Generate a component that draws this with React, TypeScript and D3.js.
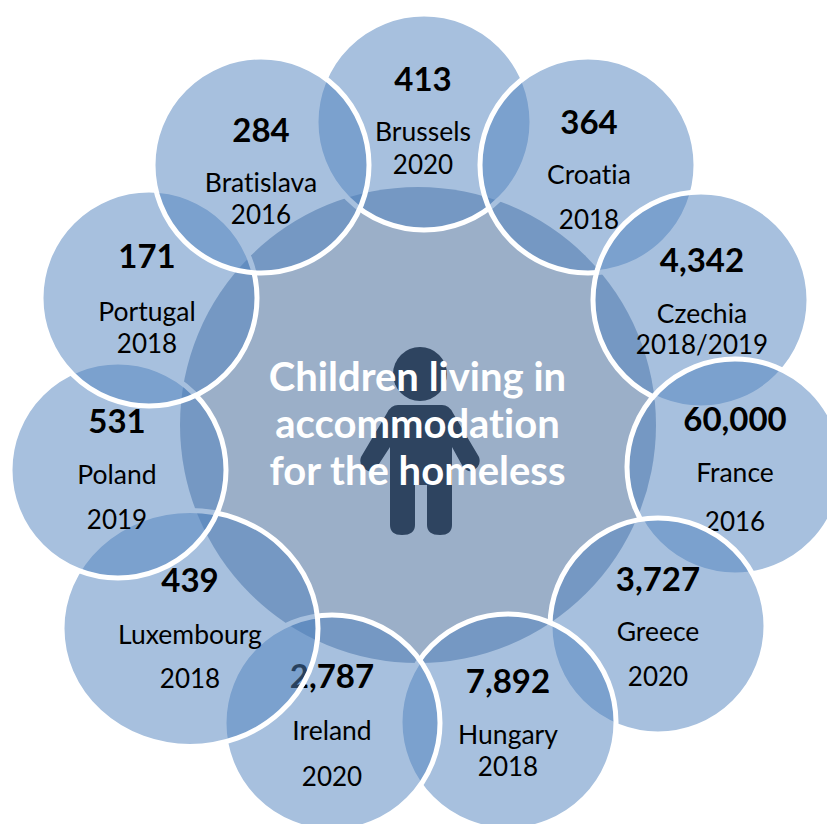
import React from "react";
import * as d3 from "d3";

// Number of children in accommodation for the homeless, clockwise from the top.
const places = ["Brussels", "Croatia", "Czechia", "France", "Greece", "Hungary", "Ireland", "Luxembourg", "Poland", "Portugal", "Bratislava"];
const years = ["2020", "2018", "2018/2019", "2016", "2020", "2018", "2020", "2018", "2019", "2018", "2016"];
const children = [413, 364, 4342, 60000, 3727, 7892, 2787, 439, 531, 171, 284];
const titleLines = ["Children living in", "accommodation", "for the homeless"];

// Hand placement of the petals: centre, radii and the three text baselines.
const petalX = [424, 588, 701, 735, 658, 508, 332, 190, 118, 149, 261];
const petalY = [122, 165, 300, 467, 626, 722, 723, 628.5, 470, 298, 165];
const petalRx = [108, 108, 108, 108, 108, 108, 108, 128, 108, 108, 108];
const petalRy = [108, 108, 108, 108, 108, 108, 108, 118, 108, 108, 108];
const textX = [423, 589, 702, 735, 658, 508, 332, 190, 117, 147, 261];
const valueBase = [91, 134, 272, 431, 591, 693, 688, 592, 433, 268, 142];
const placeBase = [141, 184, 323, 482, 641, 744, 740, 644, 484, 321, 192];
const yearBase = [174, 229, 354, 531, 686, 776, 786, 688, 529, 353, 224];

const WIDTH = 827;
const HEIGHT = 824;
const FONT = "Lato, 'Noto Sans', sans-serif";
const formatCount = d3.format(",");

// Figure in the middle of the ring, mirrored around its vertical axis.
function figurePath(cx: number): string {
  const p = d3.path();
  const side = (dx: number) => cx + dx;
  p.moveTo(side(-22), 405);
  p.lineTo(side(22), 405);
  p.quadraticCurveTo(side(29), 405, side(33), 413);
  p.lineTo(side(59), 457);
  p.quadraticCurveTo(side(62), 466, side(52), 471);
  p.quadraticCurveTo(side(47), 472, side(43), 467);
  p.lineTo(side(32), 447);
  p.lineTo(side(32), 525);
  p.quadraticCurveTo(side(32), 535, side(20), 535);
  p.quadraticCurveTo(side(7), 535, side(7), 525);
  p.lineTo(side(7), 485);
  p.lineTo(side(-5), 485);
  p.lineTo(side(-5), 525);
  p.quadraticCurveTo(side(-5), 535, side(-18), 535);
  p.quadraticCurveTo(side(-30), 535, side(-30), 525);
  p.lineTo(side(-30), 447);
  p.lineTo(side(-43), 467);
  p.quadraticCurveTo(side(-47), 472, side(-52), 471);
  p.quadraticCurveTo(side(-62), 466, side(-59), 457);
  p.lineTo(side(-33), 413);
  p.quadraticCurveTo(side(-29), 405, side(-22), 405);
  p.closePath();
  return p.toString();
}

export default function App() {
  return (
    <svg
      width={WIDTH}
      height={HEIGHT}
      viewBox={`0 0 ${WIDTH} ${HEIGHT}`}
      style={{ position: "absolute", left: 0, top: 0, fontFamily: FONT, fontVariantLigatures: "none" }}
    >
      <rect width={WIDTH} height={HEIGHT} fill="#ffffff" />
      <circle cx={418} cy={425} r={238} fill="#9BAFC8" />
      <circle cx={420} cy={374} r={27} fill="#2E4460" />
      <path d={figurePath(420)} fill="#2E4460" />
      {titleLines.map((line, i) => (
        <text key={line} x={417.5} y={391 + i * 47} textAnchor="middle" fontSize={40} fontWeight={700} fill="#ffffff">
          {line}
        </text>
      ))}
      {places.map((place, i) => (
        <g key={place}>
          <ellipse
            cx={petalX[i]}
            cy={petalY[i]}
            rx={petalRx[i]}
            ry={petalRy[i]}
            fill="#4F81BD"
            fillOpacity={0.5}
            stroke="#ffffff"
            strokeWidth={5}
          />
          <g textAnchor="middle" fill="#000000">
            <text x={textX[i]} y={valueBase[i]} fontSize={33} fontWeight={700}>
              {formatCount(children[i])}
            </text>
            <text x={textX[i]} y={placeBase[i]} fontSize={26.5}>
              {place}
            </text>
            <text x={textX[i]} y={yearBase[i]} fontSize={26}>
              {years[i]}
            </text>
          </g>
        </g>
      ))}
    </svg>
  );
}
